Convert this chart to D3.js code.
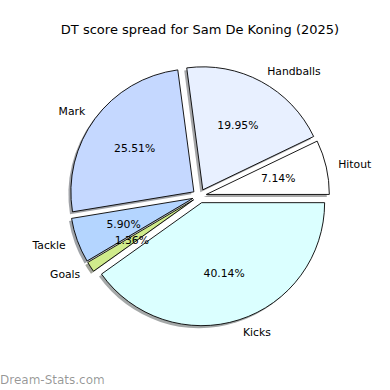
<!DOCTYPE html>
<html>
<head>
<meta charset="utf-8">
<script src="https://cdn.jsdelivr.net/npm/d3@7"></script>
<style>
  body { margin: 0; background: #fff; }
  text { font-family: "DejaVu Sans", sans-serif; }
</style>
</head>
<body>
<div id="chart"></div>
<script>
// slices counterclockwise from 3 o'clock
const categories = ["Hitout", "Handballs", "Mark", "Tackle", "Goals", "Kicks"];
const shares = [7.14, 19.95, 25.51, 5.90, 1.36, 40.14];
const colors = ["#ffffff", "#e8f0ff", "#c5d8ff", "#b4d5ff", "#d0eb8c", "#dbffff"];

const width = 390, height = 390;
const cx = 199.5, cy = 196, r = 123;
const explode = 7;

const svg = d3.select("#chart").append("svg")
  .attr("width", width)
  .attr("height", height);

svg.append("text")
  .attr("x", 200)
  .attr("y", 30)
  .attr("text-anchor", "middle")
  .attr("dominant-baseline", "middle")
  .style("font-size", "13px")
  .text("DT score spread for Sam De Koning (2025)");

const data = categories.map((c, i) => ({ name: c, value: shares[i], color: colors[i] }));
const total = d3.sum(shares);

const pie = d3.pie()
  .sort(null)
  .value(d => d.value)
  .startAngle(Math.PI / 2)
  .endAngle(Math.PI / 2 - 2 * Math.PI);

const arcs = pie(data);
const arc = d3.arc().innerRadius(0).outerRadius(r);

// screen direction of the middle of a slice
const dir = d => {
  const m = (d.startAngle + d.endAngle) / 2;
  return [Math.sin(m), -Math.cos(m)];
};

const g = svg.append("g").attr("transform", `translate(${cx},${cy})`);

// shadows go under every wedge
g.append("g").selectAll("path")
  .data(arcs)
  .join("path")
  .attr("d", arc)
  .attr("transform", d => {
    const [dx, dy] = dir(d);
    return `translate(${dx * explode - 2.5},${dy * explode + 2.5})`;
  })
  .attr("fill", d => d3.color(d.data.color).darker(4))
  .attr("fill-opacity", 0.45);

g.append("g").selectAll("path")
  .data(arcs)
  .join("path")
  .attr("d", arc)
  .attr("transform", d => {
    const [dx, dy] = dir(d);
    return `translate(${dx * explode},${dy * explode})`;
  })
  .attr("fill", d => d.data.color)
  .attr("stroke", "#000")
  .attr("stroke-width", 0.9)
  .attr("stroke-linejoin", "round");

// category labels at 1.1 r
g.append("g").selectAll("text")
  .data(arcs)
  .join("text")
  .attr("x", d => dir(d)[0] * (explode + 1.1 * r))
  .attr("y", d => dir(d)[1] * (explode + 1.1 * r) + 1)
  .attr("text-anchor", d => dir(d)[0] > 0 ? "start" : "end")
  .attr("dominant-baseline", "middle")
  .style("font-size", "10.8px")
  .text(d => d.data.name);

// percentage labels at 0.6 r
const fmt = d3.format(".2f");
g.append("g").selectAll("text")
  .data(arcs)
  .join("text")
  .attr("x", d => dir(d)[0] * (explode + 0.6 * r))
  .attr("y", d => dir(d)[1] * (explode + 0.6 * r) + 1)
  .attr("text-anchor", "middle")
  .attr("dominant-baseline", "middle")
  .style("font-size", "10.8px")
  .text(d => fmt(d.data.value / total * 100) + "%");

svg.append("text")
  .attr("x", 0)
  .attr("y", 380)
  .attr("dominant-baseline", "middle")
  .style("font-size", "12px")
  .attr("fill", "#000")
  .attr("fill-opacity", 0.42)
  .text("Dream-Stats.com");
</script>
</body>
</html>
